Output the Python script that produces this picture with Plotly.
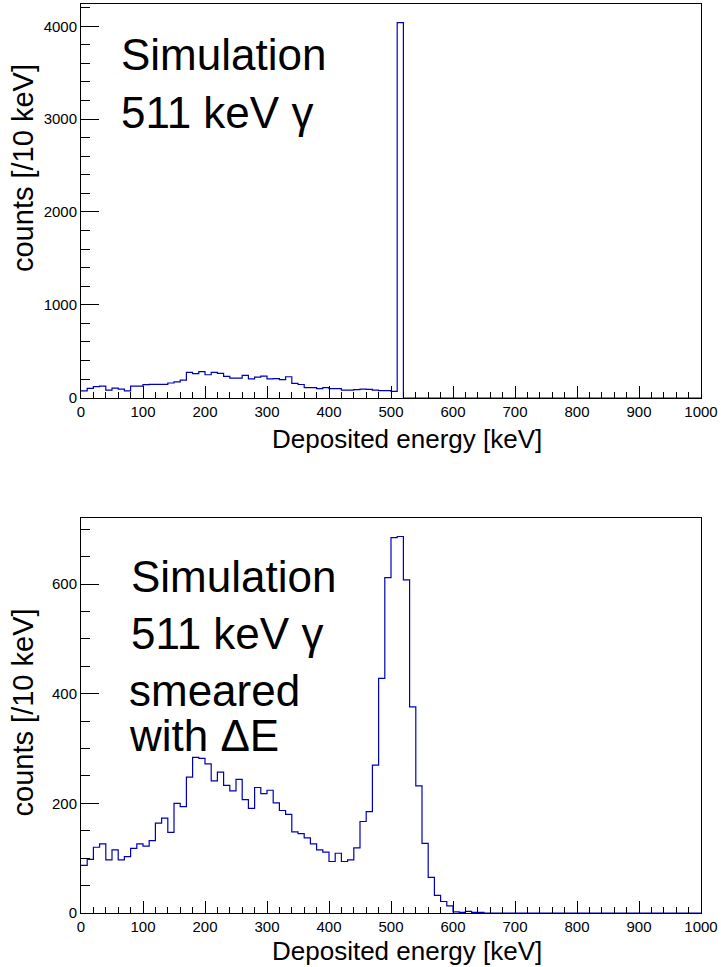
import numpy as np
import plotly.graph_objects as go

# Deposited-energy spectra, 10 keV bins from 0 to 1000 keV
bin_width = 10
bin_edges = np.arange(0, 1000 + bin_width, bin_width)

# Raw simulation (photopeak in the 510-520 keV bin)
counts_raw = [
    72, 98, 117, 124, 80, 102, 91, 72, 124, 124,
    139, 142, 142, 142, 157, 168, 187, 272, 257, 280,
    246, 272, 261, 228, 209, 209, 239, 202, 220, 232,
    202, 205, 194, 224, 153, 141, 107, 107, 96, 107,
    96, 96, 81, 81, 85, 92, 89, 81, 74, 74,
    66, 4040, 0, 0, 0, 0, 0, 0, 0, 0,
    0, 0, 0, 0, 0, 0, 0, 0, 0, 0,
    0, 0, 0, 0, 0, 0, 0, 0, 0, 0,
    0, 0, 0, 0, 0, 0, 0, 0, 0, 0,
    0, 0, 0, 0, 0, 0, 0, 0, 0, 0,
]

# Same spectrum smeared with the detector energy resolution
counts_smeared = [
    87, 98, 120, 126, 97, 115, 97, 103, 118, 126,
    122, 132, 164, 173, 147, 200, 194, 248, 284, 282,
    272, 241, 257, 233, 223, 244, 207, 191, 229, 218,
    224, 201, 187, 180, 148, 145, 137, 126, 115, 111,
    94, 109, 94, 97, 119, 167, 185, 270, 428, 612,
    685, 687, 608, 376, 232, 127, 65, 32, 21, 13,
    2, 1, 3, 1, 1, 0, 0, 0, 0, 0,
    0, 0, 0, 0, 0, 0, 0, 0, 0, 0,
    0, 0, 0, 0, 0, 0, 0, 0, 0, 0,
    0, 0, 0, 0, 0, 0, 0, 0, 0, 0,
]

x_title = "Deposited energy [keV]"
y_title = "counts [/10 keV]"
line_color = "#0000b8"
font_family = "Liberation Sans, Arial, Helvetica, sans-serif"

W, H = 721, 967
M_L, M_R, M_T, M_B = 81, 18, 3, 54
PW = W - M_L - M_R
PH = H - M_T - M_B


def px(x):
    return (x - M_L) / PW


def py(y):
    return (H - M_B - y) / PH


def step_trace(counts, xa, ya):
    y = list(counts) + [counts[-1]]
    return go.Scatter(
        x=bin_edges, y=y, mode="lines", line_shape="hv",
        line=dict(color=line_color, width=1.2),
        xaxis=xa, yaxis=ya, showlegend=False, hoverinfo="skip",
    )


fig = go.Figure()
fig.add_trace(step_trace(counts_raw, "x", "y"))
fig.add_trace(step_trace(counts_smeared, "x2", "y2"))

tick_font = dict(family=font_family, size=15, color="black")


def xaxis_style(anchor):
    return dict(
        anchor=anchor, domain=[0, 1], range=[0, 1000],
        tick0=0, dtick=100, tickformat="d",
        ticks="inside", ticklen=12, tickwidth=1, tickcolor="black",
        minor=dict(ticks="inside", ticklen=6, dtick=20, tickcolor="black", showgrid=False),
        showline=True, linecolor="black", linewidth=1, mirror=True,
        showgrid=False, zeroline=False, tickfont=tick_font,
    )


def yaxis_style(anchor, domain, top, major, minor):
    return dict(
        anchor=anchor, domain=domain, range=[0, top],
        tick0=0, dtick=major, tickformat="d",
        ticks="inside", ticklen=18, tickwidth=1, tickcolor="black",
        minor=dict(ticks="inside", ticklen=9, dtick=minor, tickcolor="black", showgrid=False),
        showline=True, linecolor="black", linewidth=1, mirror=True,
        showgrid=False, zeroline=False, tickfont=tick_font,
    )


fig.update_layout(
    width=W, height=H, autosize=False,
    margin=dict(l=M_L, r=M_R, t=M_T, b=M_B),
    paper_bgcolor="white", plot_bgcolor="white",
    font=dict(family=font_family, color="black"),
    xaxis=xaxis_style("y"),
    yaxis=yaxis_style("x", [py(397), 1.0], 4240, 1000, 200),
    xaxis2=xaxis_style("y2"),
    yaxis2=yaxis_style("x2", [0.0, py(518)], 720, 200, 50),
)


def label(text, x, y, size, angle=0, xanchor="left"):
    fig.add_annotation(
        text=text, x=px(x), y=py(y), xref="paper", yref="paper",
        xanchor=xanchor, yanchor="middle", showarrow=False, textangle=angle,
        font=dict(family=font_family, size=size, color="black"),
    )


# Axis titles
label(x_title, 408, 438, 26, xanchor="center")
label(x_title, 408, 951, 26, xanchor="center")
label(y_title, 23, 167, 29, angle=-90, xanchor="center")
label(y_title, 23, 712, 29, angle=-90, xanchor="center")

# Panel captions
label("Simulation", 119, 54, 44)
label("511 keV γ", 119, 112, 44)
label("Simulation", 129, 576, 44)
label("511 keV γ", 129, 633, 44)
label("smeared", 127, 690, 44)
label("with ΔE", 127, 735, 44)

fig.write_html("out.html")
